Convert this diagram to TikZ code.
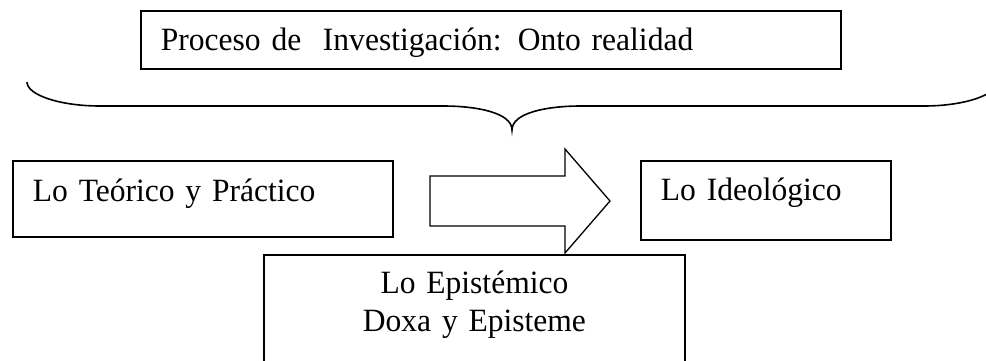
\documentclass[tikz,border=0pt]{standalone}
\usepackage{fontspec}
\setmainfont{Liberation Serif}[FakeStretch=0.97]
\newcommand{\letracaja}{\fontsize{32.5}{38}\selectfont\spaceskip 6.5pt\relax}
\tikzset{
	caja/.style={draw, rectangle, line width=1.9pt, anchor=north west, inner ysep=0pt, inner xsep=20pt, align=left, font=\letracaja},
	llave/.style={line width=1.6pt},
	flecha/.style={draw, line width=1.3pt, line join=miter}
}

\begin{document}
\begin{tikzpicture}[x=1pt, y=-1pt]
			%%%%% START %%%%%
			\useasboundingbox (0, 0) rectangle (986, 360);
			
			\node[caja, text width=660pt, text height=40pt, text depth=18pt] (proceso) at (140, 10) {Proceso de\ \ Investigación: Onto realidad};
			
			% llave
			\coordinate (punta) at (512, 130);
			\draw[llave] (27, 82) .. controls (27, 95) and (60, 106) .. (100, 106) -- (443, 106)
				.. controls (478, 106) and (512, 113) .. (punta)
				.. controls (512, 113) and (546, 106) .. (581, 106) -- (924, 106)
				.. controls (964, 106) and (997, 95) .. (997, 82);
			
			\node[caja, text width=340pt, text height=41pt, text depth=35pt] (teorico) at (12, 160) {Lo Teórico y Práctico};
			\node[caja, text width=210pt, text height=40pt, text depth=39pt] (ideologico) at (640, 160) {Lo Ideológico};
			
			\draw[flecha] (430, 176) -- (565, 176) -- (565, 149) -- (610, 201) -- (565, 253) -- (565, 226) -- (430, 226) -- cycle;
			
			\node[caja, align=center, text width=381pt, text height=39pt, text depth=130pt] (epistemico) at (263, 254) {Lo Epistémico\\Doxa y Episteme};
			
			%%%%% END %%%%%
		\end{tikzpicture}
\end{document}
